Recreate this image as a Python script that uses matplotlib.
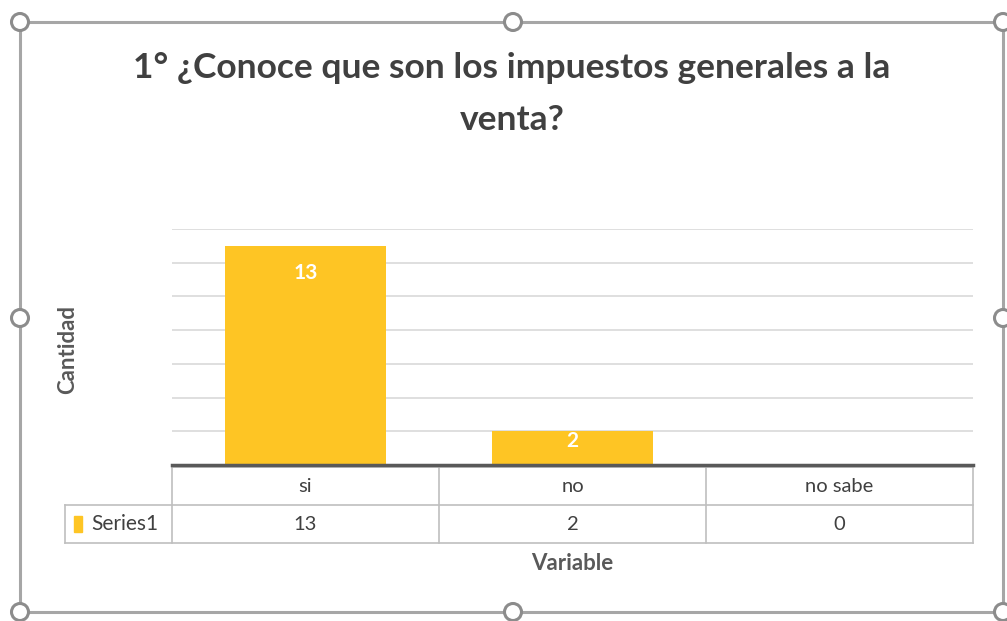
import matplotlib.pyplot as plt
from matplotlib.patches import Rectangle, Circle
from matplotlib.lines import Line2D

# data
categories = ["si", "no", "no sabe"]
values = [13, 2, 0]
series_name = "Series1"
title = "1° ¿Conoce que son los impuestos generales a la\nventa?"

BAR = "#FEC524"
GRID = "#d9d9d9"
TXT = "#404040"
W, H = 1007, 621

plt.rcParams['font.family'] = ['Lato', 'DejaVu Sans']

fig = plt.figure(figsize=(W / 100, H / 100), dpi=100)

# plot area (pixel geometry from the reference)
left, right, top, base = 172, 973, 229, 465
ax = fig.add_axes([left / W, 1 - base / H, (right - left) / W, (base - top) / H])

x = list(range(len(categories)))
bars = ax.bar(x, values, width=0.6, color=BAR, zorder=2)
ax.set_xlim(-0.5, len(categories) - 0.5)
ax.set_ylim(0, 14)
ax.set_yticks(range(0, 15, 2))
ax.yaxis.grid(True, color=GRID, lw=1.2, zorder=0)
ax.tick_params(left=False, bottom=False, labelleft=False, labelbottom=False)
for s in ["top", "right", "left"]:
    ax.spines[s].set_visible(False)
ax.spines["bottom"].set_color("#595959")
ax.spines["bottom"].set_linewidth(2.5)

# data labels inside the top of the bars
px_per_unit = (base - top) / 14
for b, v in zip(bars, values):
    if v > 0:
        off = min(27, v * px_per_unit - 24)
        ax.annotate(str(v), (b.get_x() + b.get_width() / 2, v), xytext=(0, -off),
                    textcoords="offset pixels", ha="center", va="center",
                    color="white", fontsize=15, fontweight="bold")

# data table below the axis
tr = ax.get_xaxis_transform()
px = lambda p: (base - p) / (base - top)  # pixel row -> axes fraction
row1, row2, row3 = px(467), px(505), px(543)
leg_left = -0.5 - (left - 65) / ((right - left) / len(categories))
tc = "#bfbfbf"
kw = dict(transform=tr, color=tc, lw=1.2, clip_on=False)
ax.add_line(Line2D([-0.5, len(categories) - 0.5], [row1, row1], **kw))
ax.add_line(Line2D([leg_left, len(categories) - 0.5], [row2, row2], **kw))
ax.add_line(Line2D([leg_left, len(categories) - 0.5], [row3, row3], **kw))
ax.add_line(Line2D([leg_left, leg_left], [row2, row3], **kw))
for i in range(len(categories) + 1):
    ax.add_line(Line2D([i - 0.5, i - 0.5], [row1 + 0.01, row3], **kw))
for i, (c, v) in enumerate(zip(categories, values)):
    ax.text(i, (row1 + row2) / 2, c, transform=tr, ha="center", va="center",
            fontsize=14.5, color=TXT)
    ax.text(i, (row2 + row3) / 2, str(v), transform=tr, ha="center", va="center",
            fontsize=14.5, color=TXT)
ax.add_patch(Rectangle((leg_left + 0.032, (row2 + row3) / 2 - 0.035), 0.03, 0.07,
                       transform=tr, color=BAR, clip_on=False))
ax.text(leg_left + 0.1, (row2 + row3) / 2, series_name, transform=tr,
        ha="left", va="center", fontsize=15, color=TXT)

# titles
fig.text(512 / W, 1 - 94 / H, title, ha="center", va="center", fontsize=25.5,
         fontweight="bold", color=TXT, linespacing=1.75)
fig.text(68 / W, 1 - 349 / H, "Cantidad", rotation=90, ha="center", va="center",
         fontsize=16, fontweight="bold", color="#595959")
fig.text(572 / W, 1 - 563 / H, "Variable", ha="center", va="center",
         fontsize=16, fontweight="bold", color="#595959")

# selection frame with handles
fx0, fy0, fx1, fy1 = 20, 22, 1003, 612
fr = Rectangle((fx0 / W, 1 - fy1 / H), (fx1 - fx0) / W, (fy1 - fy0) / H,
               transform=fig.transFigure, fill=False, ec="#a6a6a6", lw=2.2)
fig.add_artist(fr)
mx, my = 513, 318
for hx, hy in [(fx0, fy0), (mx, fy0), (fx1, fy0), (fx0, my), (fx1, my),
               (fx0, fy1), (mx, fy1), (fx1, fy1)]:
    fig.add_artist(Circle((hx, H - hy), 8.5, transform=None, fc="white",
                          ec="#8c8c8c", lw=2.2, zorder=5))

fig.savefig("out.png", dpi=100)
